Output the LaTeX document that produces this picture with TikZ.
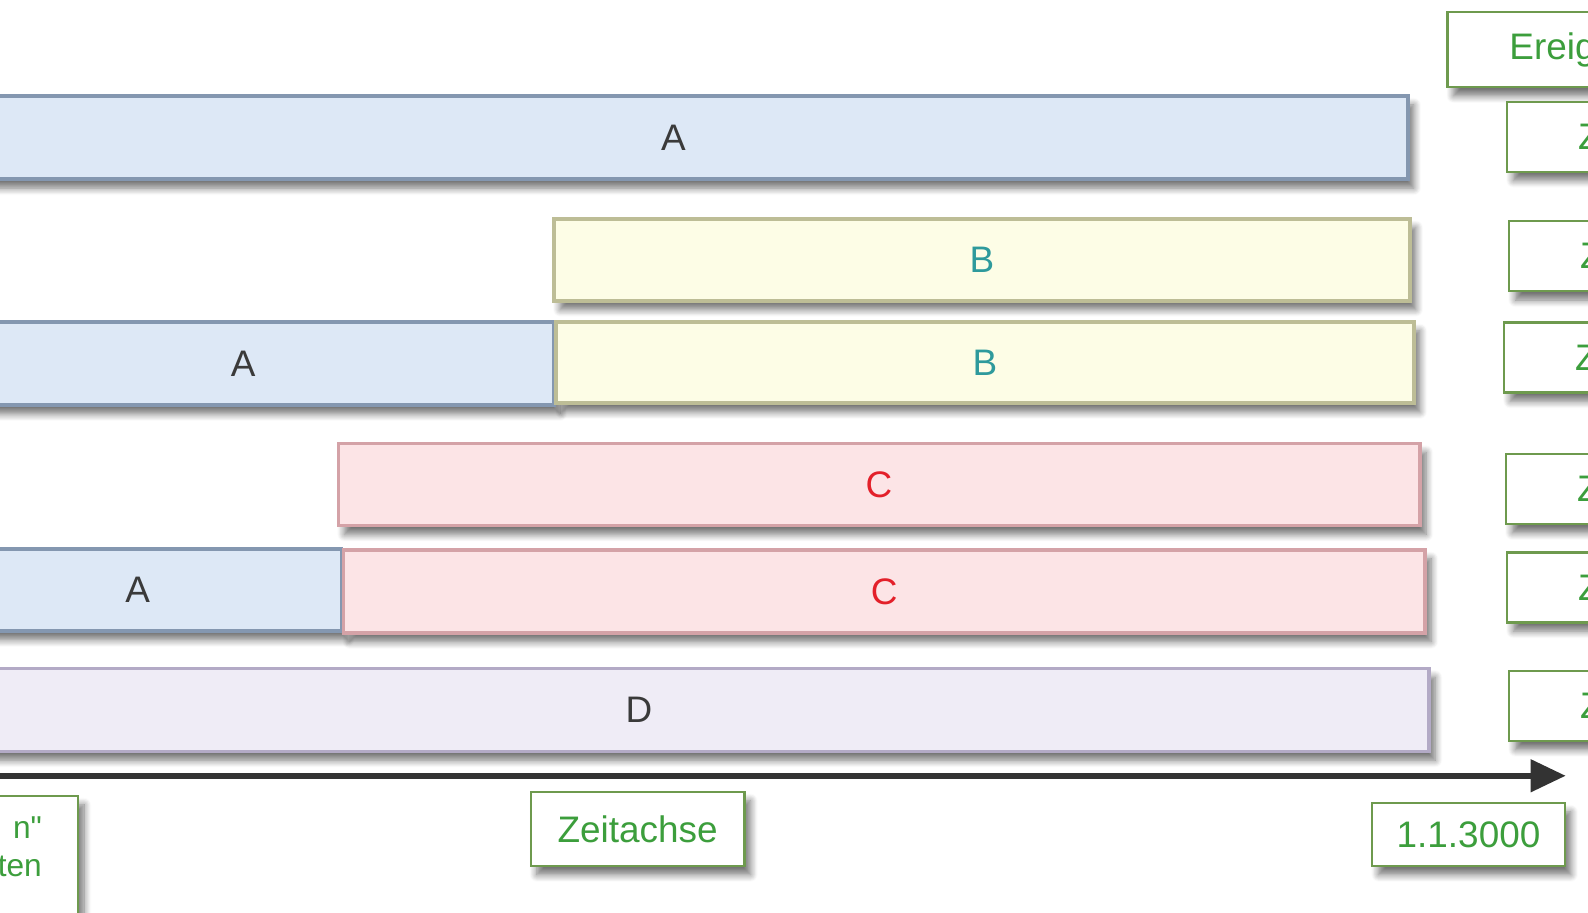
\documentclass[tikz,border=0pt]{standalone}
\usepackage{fontspec}
\setmainfont{Liberation Sans}[Ligatures=TeXOff]
\usetikzlibrary{arrows.meta,shadows.blur}
\definecolor{aFill}{HTML}{DDE8F6}
\definecolor{aLine}{HTML}{8497B0}
\definecolor{bFill}{HTML}{FDFDE6}
\definecolor{bLine}{HTML}{BDBD96}
\definecolor{cFill}{HTML}{FCE4E6}
\definecolor{cLine}{HTML}{D4A2A7}
\definecolor{dFill}{HTML}{EFECF6}
\definecolor{dLine}{HTML}{B3AAC6}
\definecolor{darkText}{HTML}{3A3A3A}
\definecolor{tealText}{HTML}{2E9A9C}
\definecolor{redText}{HTML}{E3202A}
\definecolor{lblText}{HTML}{3C9E3C}
\definecolor{lblLine}{HTML}{6E9A4E}
\definecolor{axisCol}{HTML}{333333}
\tikzset{
  pix/.style 2 args={minimum width=#1*0.020255cm, minimum height=#2*0.020255cm},
  bar/.style={draw, line width=2pt, inner sep=0pt,
    blur shadow={shadow xshift=3.5pt, shadow yshift=-5pt, shadow blur radius=4pt,
      shadow blur steps=8, shadow opacity=55},
    font=\fontsize{21}{25}\selectfont},
  barA/.style={bar, fill=aFill, draw=aLine, text=darkText},
  barB/.style={bar, fill=bFill, draw=bLine, text=tealText},
  barC/.style={bar, fill=cFill, draw=cLine, text=redText},
  barD/.style={bar, fill=dFill, draw=dLine, text=darkText},
  lbl/.style={draw=lblLine, line width=1.3pt, fill=white, text=lblText,
    blur shadow={shadow xshift=3.5pt, shadow yshift=-5pt, shadow blur radius=4pt,
      shadow blur steps=8, shadow opacity=55},
    font=\fontsize{21}{24}\selectfont},
  zbox/.style={lbl, anchor=west, minimum height=1.4cm, inner xsep=1.42cm}
}
\begin{document}
\begin{tikzpicture}[x=0.020255cm, y=-0.020255cm]
    \useasboundingbox (0,0) rectangle (1568,901.5);
    \clip (0,0) rectangle (1568,901.5);

    % draw the bars, one row per state
    \node[barA, pix={1450}{82}] (a1) at (665,136) {A};
    \node[barB, pix={845}{81}] (b2) at (969.5,256.5) {B};
    \node[barA, pix={614}{82}] (a3) at (240,359) {A};
    \node[barB, pix={847}{80}] (b3) at (972.5,358) {B};
    \node[barC, pix={1068}{81}] (c4) at (868,478.5) {C};
    \node[barA, pix={402}{81}] (a5) at (136,582.5) {A};
    \node[barC, pix={1068}{82}] (c5) at (873,584) {C};
    \node[barD, pix={1560}{82}] (d6) at (631,701) {D};

    % draw the time axis
    \coordinate (t0) at (-20,766);
    \coordinate (t1) at (1546,766);
    \draw[line width=3.4pt, color=axisCol, -{Triangle[length=20pt, width=18pt]}] (t0) -- (t1);

    % label the axis
    \node[lbl, pix={211}{73}] (axislbl) at (629.5,818.5) {Zeitachse};
    \node[lbl, pix={190}{62}] (enddate) at (1450,824) {1.1.3000};
    \node[lbl, anchor=north east, align=right, inner xsep=0.72cm, inner ysep=0.42cm,
      text depth=2.4cm, font=\fontsize{18}{21.5}\selectfont] (startlbl) at (78,785) {n"\\ten};

    % label the rows on the right
    \node[lbl, anchor=west, minimum height=1.5cm, inner xsep=1.24cm] (evhead) at (1428,49) {Ereig};
    \foreach \i/\x/\y in {1/1487/135, 2/1489/253, 3/1484/353, 4/1486/483, 5/1487/580, 6/1489/697}
      \node[zbox] (z\i) at (\x,\y) {Z};
\end{tikzpicture}
\end{document}
